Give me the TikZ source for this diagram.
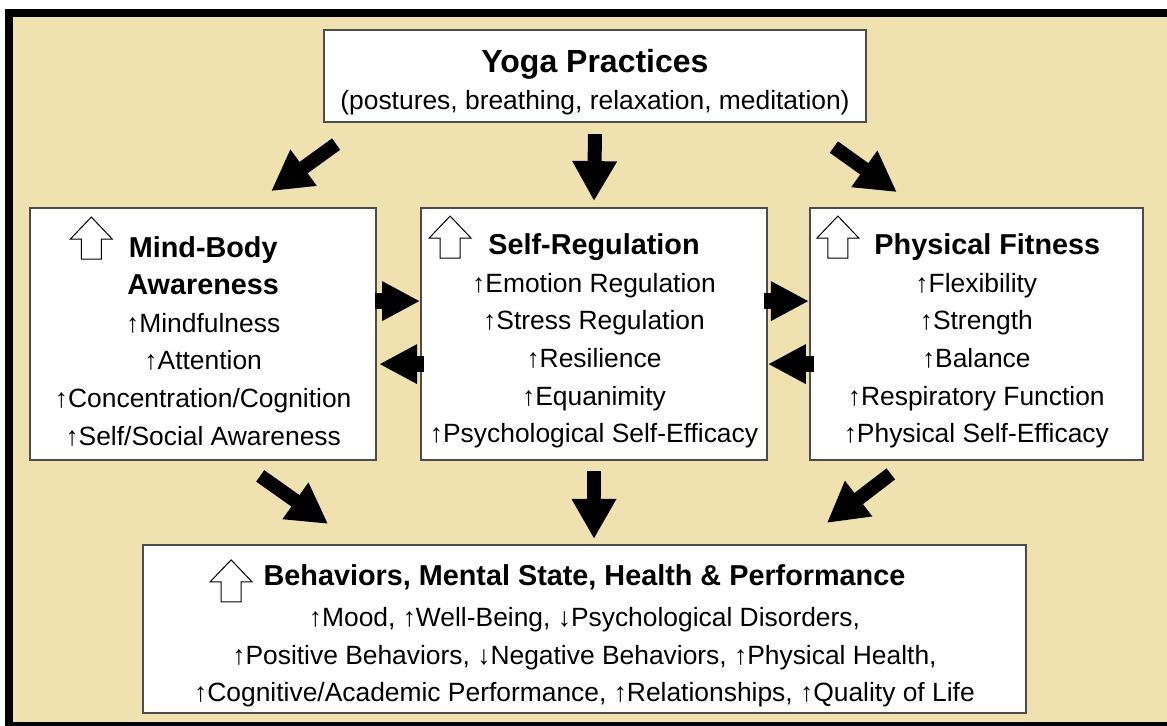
\documentclass[tikz,border=0pt]{standalone}
\usepackage{fontspec}
\setmainfont{Liberation Sans}
\usetikzlibrary{arrows.meta,positioning,calc}
\definecolor{sand}{RGB}{239,226,176}
\newcommand{\hd}[1]{{\fontsize{14.4}{18.8}\selectfont\bfseries #1}}
\newcommand{\tallstrut}{\rule{0pt}{17.5pt}}
\tikzset{
  box/.style = {draw=black!70, line width=0.9pt, fill=white, align=center,
    inner sep=0pt, font=\fontsize{13.2}{18.8}\selectfont},
  midbox/.style = {box, minimum width=173pt, minimum height=126pt},
  bigarrow/.style = {line width=7pt, -{Triangle[length=20pt,width=21pt]}},
  sidearrow/.style = {line width=8pt, -{Triangle[length=19pt,width=18.5pt]}},
  upicon/.pic = {\draw[fill=white, line width=0.5pt] (0,-21) -- (21,1) -- (10,1)
    -- (10,21) -- (-10,21) -- (-10,1) -- (-21,1) -- cycle;}
}

\begin{document}
\begin{tikzpicture}[x=0.5pt, y=-0.5pt]
  \useasboundingbox (0,0) rectangle (1167,726);
  \fill[white] (0,0) rectangle (1167,726);
  \fill[black] (5,9) rectangle (1167,726);
  \fill[sand] (13,17) rectangle (1167,722);

  % the three middle boxes
  \node[midbox] (srg) at (594,334) {\tallstrut\hd{Self-Regulation}\\ ↑Emotion Regulation\\
    ↑Stress Regulation\\ ↑Resilience\\ ↑Equanimity\\ ↑Psychological Self-Efficacy};
  \node[midbox, left=21.5pt of srg] (mba) {\tallstrut\hd{Mind-Body}\\ \hd{Awareness}\\
    ↑Mindfulness\\ ↑Attention\\ ↑Concentration/Cognition\\ ↑Self/Social Awareness};
  \node[midbox, minimum width=166.5pt, right=20.5pt of srg] (pfit) {\tallstrut\hspace*{11pt}\hd{Physical Fitness}\\
    ↑Flexibility\\ ↑Strength\\ ↑Balance\\ ↑Respiratory Function\\ ↑Physical Self-Efficacy};

  % top and bottom
  \node[box, minimum width=271pt, minimum height=46pt, above=42pt of srg, xshift=0.5pt] (yoga)
    {\tallstrut{\fontsize{16}{19}\selectfont\bfseries Yoga Practices}\\
     (postures, breathing, relaxation, meditation)};
  \node[box, minimum width=441.5pt, minimum height=84pt, below=41.5pt of srg, xshift=-4.75pt] (beh)
    {\tallstrut\hd{Behaviors, Mental State, Health \& Performance}\\[2pt]
     ↑Mood, ↑Well-Being, ↓Psychological Disorders,\\
     ↑Positive Behaviors, ↓Negative Behaviors, ↑Physical Health,\\
     ↑Cognitive/Academic Performance, ↑Relationships, ↑Quality of Life};

  \pic at ($(mba.north west)+(62,31)$) {upicon};
  \pic at ($(srg.north west)+(30,30)$) {upicon};
  \pic at ($(pfit.north west)+(29,30)$) {upicon};
  \pic at ($(beh.north west)+(89,37)$) {upicon};

  % yoga -> middle row
  \draw[bigarrow] ($(yoga.south west)+(13,21)$) -- ($(mba.north)+(68,-16)$);
  \draw[bigarrow] ($(yoga.south)+(0,11)$) -- ($(srg.north)+(0,-6)$);
  \draw[bigarrow] ($(yoga.south east)+(-33,24)$) -- ($(pfit.north)+(-79.5,-15)$);

  % between the middle boxes
  \draw[sidearrow] ($(mba.north east)+(-2,94)$) -- ($(srg.north west)+(0,94)$);
  \draw[sidearrow] ($(srg.north west)+(4,157)$) -- ($(mba.north east)+(2,157)$);
  \draw[sidearrow] ($(srg.north east)+(-4,94)$) -- ($(pfit.north west)+(0,94)$);
  \draw[sidearrow] ($(pfit.north west)+(5,157)$) -- ($(srg.north east)+(0,157)$);

  % middle row -> outcomes
  \draw[bigarrow] ($(mba.south)+(57,15)$) -- ($(beh.north west)+(186,-20)$);
  \draw[bigarrow] ($(srg.south)+(0,10)$) -- ($(srg.south |- beh.north)+(0,-5)$);
  \draw[bigarrow] ($(pfit.south)+(-85.5,13)$) -- ($(beh.north east)+(-200,-21)$);
\end{tikzpicture}
\end{document}
